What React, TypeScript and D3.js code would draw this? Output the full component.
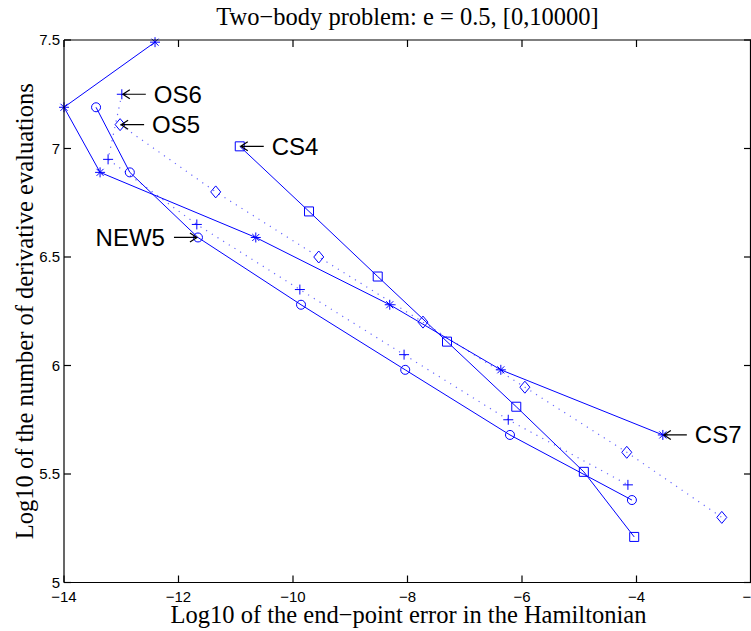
import React from "react";
import * as d3 from "d3";

// values (log10 error, log10 evaluations)
const cs7X = [-12.41, -14.0, -13.37, -10.65, -8.31, -6.37, -3.54];
const cs7Y = [7.49, 7.19, 6.89, 6.59, 6.28, 5.98, 5.68];
const os6X = [-12.99, -13.23, -11.68, -9.88, -8.06, -6.24, -4.15];
const os6Y = [7.25, 6.95, 6.65, 6.35, 6.05, 5.75, 5.45];
const os5X = [-13.02, -11.35, -9.55, -7.73, -5.95, -4.17, -2.51];
const os5Y = [7.11, 6.8, 6.5, 6.2, 5.9, 5.6, 5.3];
const new5X = [-13.44, -12.85, -11.66, -9.86, -8.04, -6.21, -4.08];
const new5Y = [7.19, 6.89, 6.59, 6.28, 5.98, 5.68, 5.38];
const cs4X = [-10.93, -9.72, -8.52, -7.31, -6.1, -4.92, -4.04];
const cs4Y = [7.01, 6.71, 6.41, 6.11, 5.81, 5.51, 5.21];

const xTicks = [-14, -12, -10, -8, -6, -4, -2];
const yTicks = [5, 5.5, 6, 6.5, 7, 7.5];

const title = "Two\u2212body problem: e = 0.5, [0,10000]";
const xLabel = "Log10 of the end\u2212point error in the Hamiltonian";
const yLabel = "Log10 of the number of derivative evaluations";

const width = 751;
const height = 631;
const left = 64;
const right = 751;
const top = 40;
const bottom = 582.5;

const blue = "#0000ff";

const x = d3.scaleLinear().domain([-14, -2]).range([left, right]);
const y = d3.scaleLinear().domain([5, 7.5]).range([bottom, top]);

const series = [
  { name: "CS7", xs: cs7X, ys: cs7Y, marker: "star", dotted: false },
  { name: "OS6", xs: os6X, ys: os6Y, marker: "plus", dotted: true },
  { name: "OS5", xs: os5X, ys: os5Y, marker: "diamond", dotted: true },
  { name: "NEW5", xs: new5X, ys: new5Y, marker: "circle", dotted: false },
  { name: "CS4", xs: cs4X, ys: cs4Y, marker: "square", dotted: false },
];

// label: which series, which point, arrow side
const notes = [
  { label: "OS6", s: 1, i: 0, side: "right" },
  { label: "OS5", s: 2, i: 0, side: "right" },
  { label: "CS4", s: 4, i: 0, side: "right" },
  { label: "CS7", s: 0, i: 6, side: "right" },
  { label: "NEW5", s: 3, i: 2, side: "left" },
];

function markerPath(type, cx, cy) {
  if (type === "star") {
    const r = 5, d = 3.5;
    return `M${cx - r},${cy}H${cx + r}M${cx},${cy - r}V${cy + r}` +
      `M${cx - d},${cy - d}L${cx + d},${cy + d}M${cx - d},${cy + d}L${cx + d},${cy - d}`;
  }
  if (type === "plus") {
    const r = 5;
    return `M${cx - r},${cy}H${cx + r}M${cx},${cy - r}V${cy + r}`;
  }
  if (type === "diamond") {
    return `M${cx},${cy - 6}L${cx + 5},${cy}L${cx},${cy + 6}L${cx - 5},${cy}Z`;
  }
  if (type === "square") {
    return `M${cx - 4.5},${cy - 4.5}h9v9h-9Z`;
  }
  return "";
}

const line = d3.line().x((d) => x(d[0])).y((d) => y(d[1]));

export default function App() {
  return (
    <svg
      width={width}
      height={height}
      style={{ position: "absolute", left: 0, top: 0, background: "#fff" }}
    >
      <rect x={0} y={0} width={width} height={height} fill="#fff" />
      {series.map((s) => {
        const pts = s.xs.map((v, i) => [v, s.ys[i]]);
        return (
          <g key={s.name}>
            <path
              d={line(pts)}
              fill="none"
              stroke={blue}
              strokeWidth={s.dotted ? 1.2 : 1}
              strokeOpacity={s.dotted ? 0.6 : 1}
              strokeDasharray={s.dotted ? "1.2,5.5" : null}
            />
            {pts.map((p, i) =>
              s.marker === "circle" ? (
                <circle key={i} cx={x(p[0])} cy={y(p[1])} r={4.5} fill="none" stroke={blue} />
              ) : (
                <path key={i} d={markerPath(s.marker, x(p[0]), y(p[1]))} fill="none" stroke={blue} />
              )
            )}
          </g>
        );
      })}

      {/* axes box */}
      <g stroke="#000" strokeWidth={1.2} fill="none">
        <line x1={left} x2={right} y1={bottom} y2={bottom} />
        <line x1={left} x2={right} y1={top} y2={top} />
        <line x1={left} x2={left} y1={top} y2={bottom} />
        <line x1={right - 0.5} x2={right - 0.5} y1={top} y2={bottom} />
        {xTicks.map((t) => (
          <g key={t}>
            <line x1={x(t)} x2={x(t)} y1={bottom} y2={bottom - 7} />
            <line x1={x(t)} x2={x(t)} y1={top} y2={top + 7} />
          </g>
        ))}
        {yTicks.map((t) => (
          <g key={t}>
            <line x1={left} x2={left + 7} y1={y(t)} y2={y(t)} />
            <line x1={right} x2={right - 7} y1={y(t)} y2={y(t)} />
          </g>
        ))}
      </g>

      <g fontFamily="'Liberation Sans', Arial, sans-serif" fontSize={15} fill="#000">
        {xTicks.map((t) => (
          <text key={t} x={x(t)} y={bottom + 19} textAnchor="middle">
            {t < 0 ? "\u2212" + Math.abs(t) : t}
          </text>
        ))}
        {yTicks.map((t) => (
          <text key={t} x={left - 4} y={y(t) + 5} textAnchor="end">
            {t}
          </text>
        ))}
      </g>

      {notes.map((n) => {
        const s = series[n.s];
        const px = x(s.xs[n.i]);
        const py = y(s.ys[n.i]);
        if (n.side === "right") {
          const tip = px + 1;
          return (
            <g key={n.label}>
              <path
                d={`M${tip},${py}H${tip + 23}M${tip + 7},${py - 4.5}L${tip},${py}L${tip + 7},${py + 4.5}`}
                fill="none"
                stroke="#000"
                strokeWidth={1.2}
              />
              <text
                x={tip + 31}
                y={py + 8.5}
                fontFamily="'Liberation Sans', Arial, sans-serif"
                fontSize={24}
              >
                {n.label}
              </text>
            </g>
          );
        }
        const tip = px - 1;
        return (
          <g key={n.label}>
            <path
              d={`M${tip},${py}H${tip - 23}M${tip - 7},${py - 4.5}L${tip},${py}L${tip - 7},${py + 4.5}`}
              fill="none"
              stroke="#000"
              strokeWidth={1.2}
            />
            <text
              x={tip - 32}
              y={py + 8.5}
              textAnchor="end"
              fontFamily="'Liberation Sans', Arial, sans-serif"
              fontSize={24}
            >
              {n.label}
            </text>
          </g>
        );
      })}

      <g fontFamily="'Liberation Serif', 'Times New Roman', serif" fontSize={24.5} fill="#000">
        <text x={(left + right) / 2} y={25} textAnchor="middle">
          {title}
        </text>
        <text x={(left + right) / 2 + 1} y={623} textAnchor="middle">
          {xLabel}
        </text>
        <text
          transform={`translate(33,${(top + bottom) / 2}) rotate(-90)`}
          textAnchor="middle"
        >
          {yLabel}
        </text>
      </g>
    </svg>
  );
}
